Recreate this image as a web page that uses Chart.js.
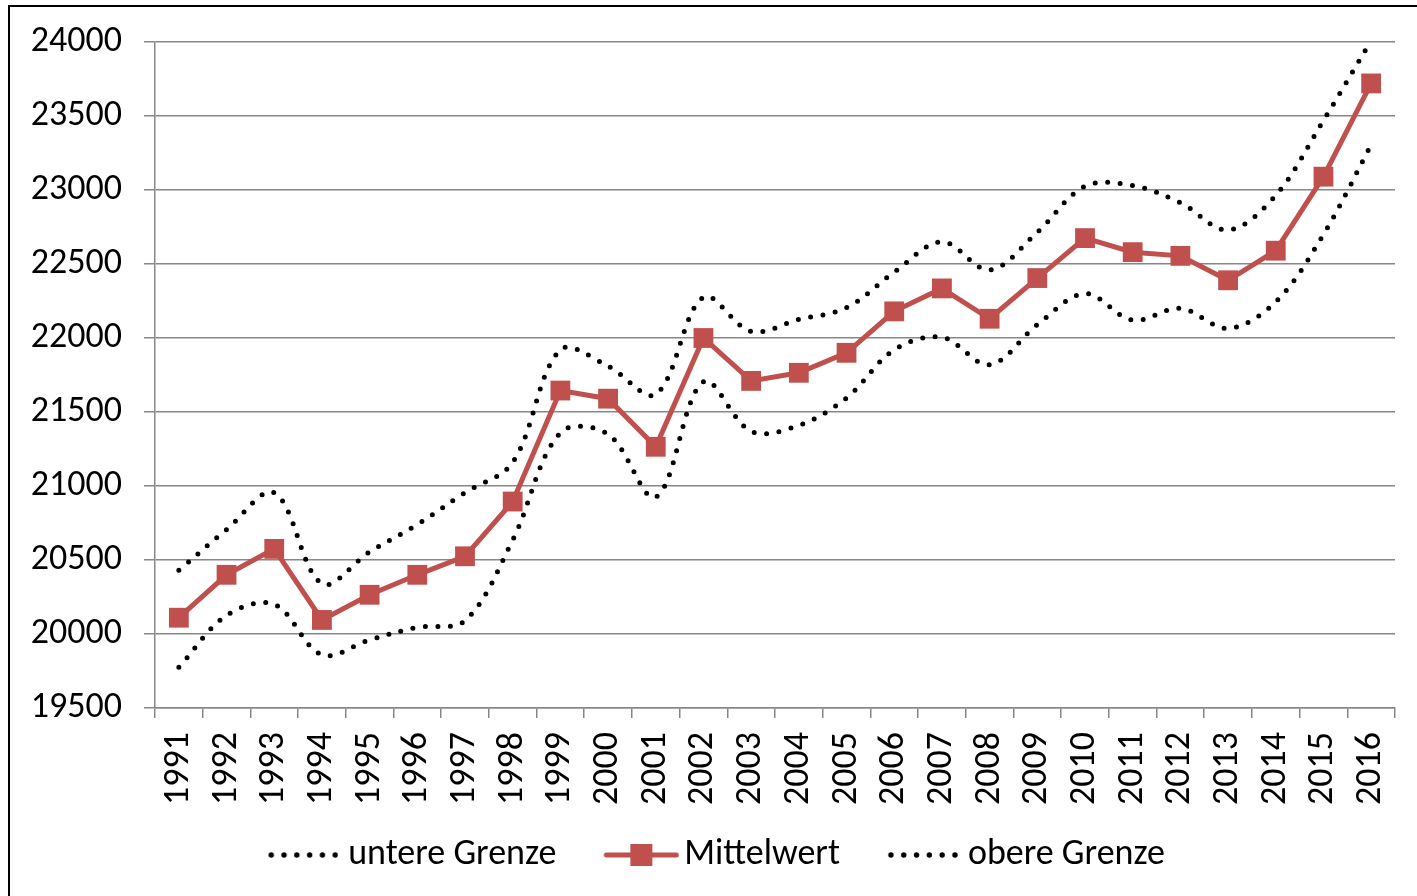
<!DOCTYPE html>
<html>
<head>
<meta charset="utf-8">
<script src="https://cdn.jsdelivr.net/npm/chart.js@4.4.1/dist/chart.umd.min.js"></script>
<style>
  html, body { margin: 0; padding: 0; background: #fff; overflow: hidden; }
  #frame { position: absolute; left: 8px; top: 5px; width: 1430px; height: 910px; border: 2px solid #000; box-sizing: border-box; background: #fff; }
  #c { position: absolute; left: 0; top: 0; }
</style>
</head>
<body>
<div id="frame"></div>
<canvas id="c" width="1417" height="896"></canvas>
<script>
const years = ['1991','1992','1993','1994','1995','1996','1997','1998','1999','2000','2001','2002','2003','2004','2005','2006','2007','2008','2009','2010','2011','2012','2013','2014','2015','2016'];
const untereGrenze = [19775, 20125, 20200, 19860, 19960, 20045, 20090, 20635, 21360, 21350, 20925, 21705, 21370, 21410, 21595, 21920, 22005, 21820, 22090, 22300, 22120, 22200, 22065, 22245, 22700, 23305];
const mittelwert   = [20110, 20400, 20575, 20095, 20265, 20400, 20525, 20895, 21645, 21590, 21265, 22000, 21710, 21765, 21900, 22180, 22335, 22130, 22405, 22675, 22580, 22555, 22390, 22590, 23090, 23720];
const obereGrenze  = [20430, 20705, 20955, 20340, 20555, 20740, 20955, 21160, 21920, 21810, 21620, 22275, 22045, 22125, 22205, 22445, 22650, 22460, 22715, 23025, 23030, 22915, 22730, 22965, 23470, 24010];
const seriesNames = ['untere Grenze', 'Mittelwert', 'obere Grenze'];
const yTicks = { min: 19500, max: 24000, step: 500 };

const RED = '#C0504D';
const FONT = 'Carlito, Lato, "Open Sans", sans-serif';
const FSIZE = 36;
const BOXW = 100;

// dotted legend symbol: image centered in box, spans [x-8, x+BOXW+8]
function dottedIcon() {
  const k = 8;
  const c = document.createElement('canvas');
  c.width = BOXW + 2 * k; c.height = 12;
  const g = c.getContext('2d');
  g.fillStyle = '#000';
  const end = c.width - 3, n = 6, step = 12.8;
  for (let i = 0; i < n; i++) {
    g.beginPath();
    g.arc(end - (n - 1 - i) * step, 6, 2.7, 0, Math.PI * 2);
    g.fill();
  }
  return c;
}
function meanIcon() {
  const k = 13;
  const c = document.createElement('canvas');
  c.width = BOXW + 2 * k; c.height = 24;
  const g = c.getContext('2d');
  const end = c.width - 3, start = end - 70;
  g.strokeStyle = RED; g.lineWidth = 5; g.lineCap = 'round';
  g.beginPath(); g.moveTo(start, 12); g.lineTo(end, 12); g.stroke();
  g.fillStyle = RED;
  const mid = (start + end) / 2;
  g.fillRect(mid - 11, 1, 22, 22);
  return c;
}
const icons = [dottedIcon(), meanIcon(), dottedIcon()];

const dotted = (label, data) => ({
  label, data,
  borderColor: '#000', backgroundColor: '#000',
  borderWidth: 5, borderDash: [0, 12.5], borderCapStyle: 'round',
  pointRadius: 0, pointHoverRadius: 0,
  tension: 0.35, fill: false, clip: false
});

new Chart(document.getElementById('c'), {
  type: 'line',
  data: {
    labels: years,
    datasets: [
      dotted(seriesNames[0], untereGrenze),
      {
        label: seriesNames[1], data: mittelwert,
        borderColor: RED, backgroundColor: RED,
        borderWidth: 5, pointStyle: 'rect', pointRadius: 14, pointHoverRadius: 14,
        pointBorderWidth: 0, tension: 0, fill: false, clip: false
      },
      dotted(seriesNames[2], obereGrenze)
    ]
  },
  options: {
    responsive: false, animation: false,
    layout: { padding: { left: 0, right: 22, top: 42, bottom: 13 } },
    plugins: {
      tooltip: { enabled: false },
      legend: {
        position: 'bottom',
        labels: {
          usePointStyle: true, pointStyleWidth: BOXW, padding: 10,
          color: '#000', font: { family: FONT, size: FSIZE },
          generateLabels(chart) {
            return chart.data.datasets.map((ds, i) => ({
              text: ds.label, fillStyle: 'transparent', strokeStyle: 'transparent',
              lineWidth: 0, pointStyle: icons[i], hidden: false, datasetIndex: i, fontColor: '#000'
            }));
          }
        }
      }
    },
    scales: {
      x: {
        offset: true,
        grid: { display: true, drawOnChartArea: false, drawTicks: true, tickLength: 10, offset: true, color: '#878787', lineWidth: 1.5 },
        border: { color: '#878787', width: 1.5 },
        ticks: { minRotation: 90, maxRotation: 90, autoSkip: false, color: '#000', padding: 14, font: { family: FONT, size: FSIZE } },
        afterFit(s) { s.height = 119; s.paddingLeft = 0; s.paddingRight = 0; }
      },
      y: {
        min: yTicks.min, max: yTicks.max,
        ticks: { stepSize: yTicks.step, color: '#000', padding: 22, font: { family: FONT, size: FSIZE }, callback: v => String(v) },
        grid: { color: '#878787', lineWidth: 1.5, tickLength: 11 },
        border: { color: '#878787', width: 1.5 },
        afterFit(s) { s.width = 155; s.paddingTop = 0; s.paddingBottom = 0; }
      }
    }
  }
});
</script>
</body>
</html>
